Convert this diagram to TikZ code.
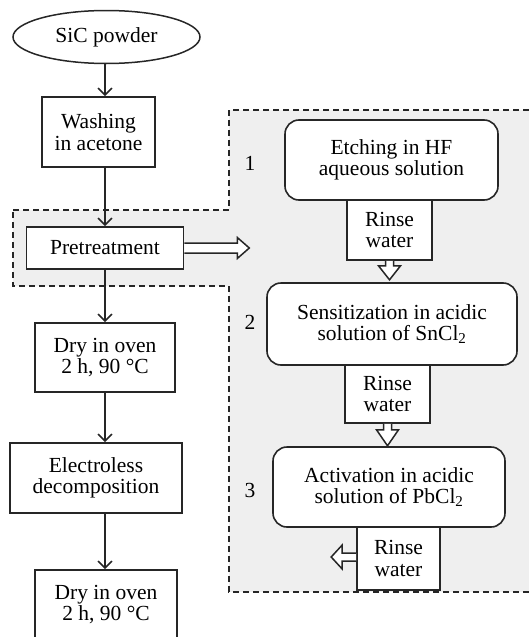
\documentclass[tikz,border=0pt]{standalone}
\usepackage{fontspec}
\setmainfont{Liberation Serif}
\usetikzlibrary{shapes.geometric,arrows.meta}
\definecolor{linegray}{HTML}{262626}
\definecolor{regiongray}{HTML}{EFEFEF}
\begin{document}
\begin{tikzpicture}[x=1pt,y=-1pt,
  every node/.style={font=\fontsize{21.5}{21.5}\selectfont, align=center, inner sep=0pt},
  box/.style={draw=linegray, line width=1.6pt, fill=white},
  rbox/.style={box, rounded corners=14pt},
  flow/.style={draw=linegray, line width=1.6pt, -{Straight Barb[length=7pt,width=14pt]}},
  hollow/.style={draw=linegray, line width=1.5pt, fill=white},
  region/.style={draw=linegray, line width=1.5pt, dash pattern=on 6pt off 4pt, fill=regiongray}]
\useasboundingbox (0,0) rectangle (528,637);
% pretreatment region
\draw[region] (13,210) -- (229,210) -- (229,110) -- (535,110) -- (535,592) -- (229,592) -- (229,286) -- (13,286) -- cycle;
% main line
\node[ellipse, draw=linegray, line width=1.5pt, minimum width=187, minimum height=53] (powder) at (106.5,37) {SiC powder};
\node[box, minimum width=113, minimum height=70] (wash) at (98.5,132) {Washing\\in acetone};
\node[box, minimum width=157, minimum height=42] (pretreat) at (105,248) {Pretreatment};
\node[box, minimum width=140, minimum height=69] (dry1) at (105,357.5) {Dry in oven\\2 h, 90 °C};
\node[box, minimum width=172, minimum height=70] (elec) at (96,478) {Electroless\\decomposition};
\node[box, minimum width=142, minimum height=69] (dry2) at (106,604.5) {Dry in oven\\2 h, 90 °C};
\draw[flow] (pretreat.south |- powder.south) -- (pretreat.south |- wash.north);
\draw[flow] (pretreat.south |- wash.south) -- (pretreat.north);
\draw[flow] (pretreat.south) -- (pretreat.south |- dry1.north);
\draw[flow] (dry1.south) -- (dry1.south |- elec.north);
\draw[flow] (dry1.south |- elec.south) -- (dry1.south |- dry2.north);
% pretreatment steps
\node[box, minimum width=85, minimum height=60] (rinse1) at (389.5,230) {Rinse\\water};
\node[box, minimum width=85, minimum height=58] (rinse2) at (387.5,394) {Rinse\\water};
\node[box, minimum width=83, minimum height=63] (rinse3) at (398.5,558.5) {Rinse\\water};
\node[rbox, minimum width=213, minimum height=80] (etch) at (391.5,160) {Etching in HF\\aqueous solution};
\node[rbox, minimum width=250, minimum height=82] (sens) at (392,324) {Sensitization in acidic\\solution of SnCl\textsubscript{2}};
\node[rbox, minimum width=232, minimum height=80] (act) at (389,487) {Activation in acidic\\solution of PbCl\textsubscript{2}};
\node (lab1) at (250,163) {1};
\node (lab2) at (250,322) {2};
\node (lab3) at (250,490) {3};
\draw[hollow] (pretreat.east) ++(0,-5) -- ++(53,0) -- ++(0,-5.5) -- ++(12,10.5) -- ++(-12,10.5) -- ++(0,-5.5) -- ++(-53,0);
\draw[hollow] (rinse1.south) ++(-4,0) -- ++(0,5) -- ++(-7,0) -- ++(11,14) -- ++(11,-14) -- ++(-7,0) -- ++(0,-5);
\draw[hollow] (rinse2.south) ++(-4,0) -- ++(0,6) -- ++(-7,0) -- ++(11,16) -- ++(11,-16) -- ++(-7,0) -- ++(0,-6);
\draw[hollow] (rinse3.west) ++(0,-5.5) -- ++(-14,0) -- ++(0,-8) -- ++(-11,12) -- ++(11,12) -- ++(0,-8) -- ++(14,0);
\end{tikzpicture}
\end{document}
